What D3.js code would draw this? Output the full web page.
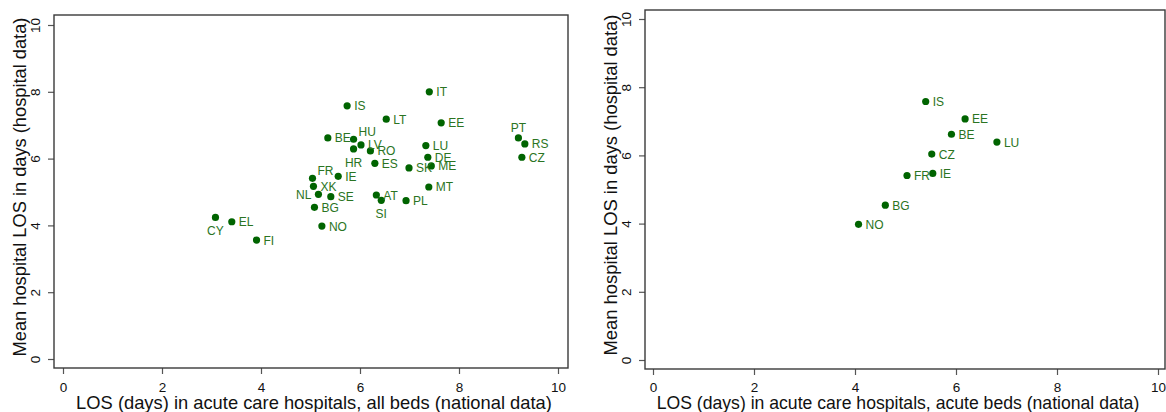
<!DOCTYPE html>
<html>
<head>
<meta charset="utf-8">
<script src="https://cdn.jsdelivr.net/npm/d3@7"></script>
<style>
  html, body { margin: 0; padding: 0; background: #fff; }
  svg { display: block; }
  text { font-family: "Liberation Sans", Arial, sans-serif; }
</style>
</head>
<body>
<svg id="chart" width="1166" height="412"></svg>
<script>
// Countries and length-of-stay values, all beds (national data) vs hospital data
const countriesAll = ["IT","IS","LT","EE","BE","HU","LV","HR","RO","ES","LU","DE","ME","SK","MT","PL","AT","SI","PT","RS","CZ","FR","IE","XK","NL","SE","BG","NO","CY","EL","FI"];
const losAllBeds   = [7.40,5.74,6.53,7.64,5.35,5.87,6.02,5.87,6.21,6.30,7.33,7.37,7.44,6.99,7.39,6.93,6.33,6.43,9.20,9.33,9.27,5.04,5.56,5.06,5.16,5.41,5.08,5.23,3.08,3.41,3.91];
const losHospAll   = [8.00,7.58,7.18,7.07,6.62,6.58,6.41,6.29,6.23,5.86,6.39,6.04,5.78,5.72,5.15,4.74,4.91,4.75,6.62,6.44,6.04,5.41,5.47,5.17,4.93,4.86,4.54,3.98,4.24,4.11,3.56];

// Countries with acute-bed figures
const countriesAcute = ["IS","EE","BE","LU","CZ","FR","IE","BG","NO"];
const losAcuteBeds   = [5.40,6.18,5.91,6.81,5.52,5.03,5.54,4.60,4.07];
const losHospAcute   = [7.58,7.07,6.62,6.39,6.04,5.41,5.47,4.54,3.98];

const xTicks = [0, 2, 4, 6, 8, 10];
const yTicks = [0, 2, 4, 6, 8, 10];

const xTitleAll   = "LOS (days) in acute care hospitals, all beds (national data)";
const xTitleAcute = "LOS (days) in acute care hospitals, acute beds (national data)";
const yTitle      = "Mean hospital LOS in days (hospital data)";

// Marker-label clock positions per panel (default 3 o'clock)
const labelClockAll   = { HU: 1, HR: 6, SI: 6, CY: 6, PT: 12, NL: 9, FR: 1 };
const labelClockAcute = {};

const markerColor = "#006400";
const labelColor  = "#2a7422";

const svg = d3.select("#chart");

const panels = [
  {
    names: countriesAll, xs: losAllBeds, ys: losHospAll, xTitle: xTitleAll, clock: labelClockAll,
    frame: { x0: 54, x1: 568, y0: 15, y1: 368 },
    xRange: [63, 558], yRange: [359, 25],
    yLabelX: 40, yTitleX: 26, yTitleCenter: 187, yTitleLen: 339,
    xTitleCenter: 314, xTitleLen: 476
  },
  {
    names: countriesAcute, xs: losAcuteBeds, ys: losHospAcute, xTitle: xTitleAcute, clock: labelClockAcute,
    frame: { x0: 645, x1: 1165, y0: 10, y1: 369 },
    xRange: [653, 1158], yRange: [360, 19],
    yLabelX: 631, yTitleX: 617, yTitleCenter: 185, yTitleLen: 341,
    xTitleCenter: 898, xTitleLen: 483
  }
];

// Scale a text's font size so its rendered length matches the wanted width
function fitText(sel, width) {
  const base = 18;
  sel.attr("font-size", base);
  const w = sel.node().getComputedTextLength();
  sel.attr("font-size", base * width / w);
}

panels.forEach(p => {
  const g = svg.append("g");
  const x = d3.scaleLinear().domain([0, 10]).range(p.xRange);
  const y = d3.scaleLinear().domain([0, 10]).range(p.yRange);
  const f = p.frame;

  // Y axis ticks and rotated labels
  const yAxis = d3.axisLeft(y).tickValues(yTicks).tickSize(6).tickFormat(d3.format("d"));
  const ya = g.append("g").attr("transform", `translate(${f.x0},0)`).call(yAxis);
  ya.select(".domain").remove();
  ya.selectAll(".tick line").attr("stroke", "#555").attr("stroke-width", 1.2);
  ya.selectAll(".tick text")
    .attr("x", null).attr("dy", null)
    .attr("transform", d => `translate(${p.yLabelX - f.x0},0) rotate(-90)`)
    .attr("text-anchor", "middle")
    .attr("font-size", 13.5)
    .attr("fill", "#111");

  // X axis ticks and labels
  const xAxis = d3.axisBottom(x).tickValues(xTicks).tickSize(6).tickFormat(d3.format("d"));
  const xa = g.append("g").attr("transform", `translate(0,${f.y1})`).call(xAxis);
  xa.select(".domain").remove();
  xa.selectAll(".tick line").attr("stroke", "#555").attr("stroke-width", 1.2);
  xa.selectAll(".tick text")
    .attr("y", 24 - (f.y1 - 368)).attr("dy", null)
    .attr("font-size", 13.5)
    .attr("fill", "#111");

  // Plot region outline
  g.append("rect")
    .attr("x", f.x0).attr("y", f.y0)
    .attr("width", f.x1 - f.x0).attr("height", f.y1 - f.y0)
    .attr("fill", "none").attr("stroke", "#3a3a3a").attr("stroke-width", 1.4);

  // Axis titles
  const xt = g.append("text")
    .attr("x", p.xTitleCenter).attr("y", 409)
    .attr("text-anchor", "middle").attr("fill", "#111")
    .text(p.xTitle);
  fitText(xt, p.xTitleLen);

  const yt = g.append("text")
    .attr("transform", `translate(${p.yTitleX},${p.yTitleCenter}) rotate(-90)`)
    .attr("text-anchor", "middle").attr("fill", "#111")
    .text(yTitle);
  fitText(yt, p.yTitleLen);

  // Points
  const data = p.names.map((n, i) => ({ name: n, x: p.xs[i], y: p.ys[i] }));
  g.append("g").selectAll("circle").data(data).join("circle")
    .attr("cx", d => x(d.x)).attr("cy", d => y(d.y))
    .attr("r", 3.6).attr("fill", markerColor);

  // Marker labels placed by clock position
  const offsets = {
    3:  { dx: 7,  dy: 4.5,  anchor: "start" },
    1:  { dx: 5,  dy: -3,   anchor: "start" },
    6:  { dx: 0,  dy: 18,   anchor: "middle" },
    12: { dx: 0,  dy: -6,   anchor: "middle" },
    9:  { dx: -7, dy: 4.5,  anchor: "end" }
  };
  g.append("g").selectAll("text").data(data).join("text")
    .each(function (d) {
      const o = offsets[p.clock[d.name] || 3];
      d3.select(this)
        .attr("x", x(d.x) + o.dx).attr("y", y(d.y) + o.dy)
        .attr("text-anchor", o.anchor);
    })
    .attr("font-size", 12)
    .attr("fill", labelColor)
    .text(d => d.name);
});
</script>
</body>
</html>
